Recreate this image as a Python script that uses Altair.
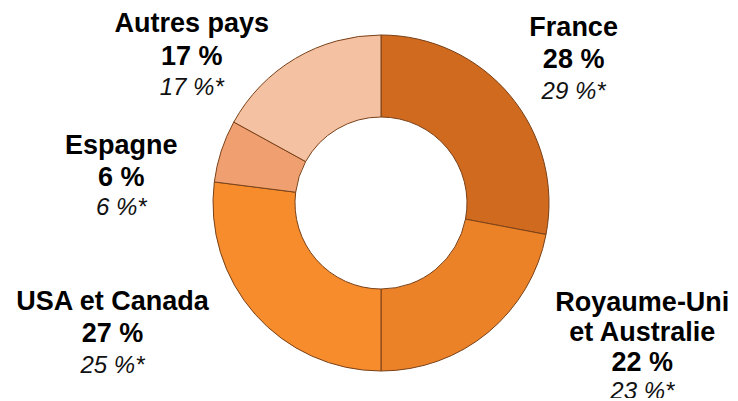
import altair as alt
import pandas as pd

categories = ["France", "Royaume-Uni et Australie", "USA et Canada", "Espagne", "Autres pays"]
label_names = ["France", "Royaume-Uni\net Australie", "USA et Canada", "Espagne", "Autres pays"]
shares = [28, 22, 27, 6, 17]
prev_shares = [29, 23, 25, 6, 17]
colors = ["#d06a1e", "#ec8228", "#f78c2c", "#f0a070", "#f4c2a2"]

df = pd.DataFrame({
    "cat": categories,
    "order": list(range(len(categories))),
    "share": shares,
    "prev": prev_shares,
    "name": label_names,
})
df["bold"] = df["name"] + "\n" + df["share"].astype(str) + " %"
df["ital"] = df["prev"].astype(str) + " %*"

theta_scale = alt.Scale(domain=[0, 100])
color_scale = alt.Scale(domain=categories, range=colors)

base = alt.Chart(df).transform_window(
    cum="sum(share)", sort=[alt.SortField("order")], frame=[None, 0]
).transform_calculate(
    start="datum.cum - datum.share",
    mid="datum.cum - datum.share / 2",
)

arcs = base.mark_arc(innerRadius=86, outerRadius=168, stroke="#7a4118", strokeWidth=1).encode(
    theta=alt.Theta("start:Q", scale=theta_scale),
    theta2="cum:Q",
    color=alt.Color("cat:N", scale=color_scale, legend=None),
)

# label offsets (style) relative to the mid-angle anchor at radius 250
# (bold dx, bold dy, line height), (italic dx, italic dy)
offsets = {
    "France": ((0, -16, 32), (0, 48)),
    "Royaume-Uni et Australie": ((102, -93, 30), (102, -4)),
    "USA et Canada": ((-81, -66, 32), (-81, -2)),
    "Espagne": ((-22, 20, 32), (-22, 82)),
    "Autres pays": ((-62, 36, 33), (-62, 100)),
}

layers = [arcs]
for cat in categories:
    (bdx, bdy, lh), (idx, idy) = offsets[cat]
    sub = base.transform_filter(alt.datum.cat == cat)
    layers.append(sub.mark_text(
        radius=250, dx=bdx, dy=bdy, font="Liberation Sans", fontSize=27,
        fontWeight="bold", lineBreak="\n", lineHeight=lh, baseline="middle",
        align="center", color="#000000",
    ).encode(theta=alt.Theta("mid:Q", scale=theta_scale), text="bold:N"))
    layers.append(sub.mark_text(
        radius=250, dx=idx, dy=idy, font="Liberation Sans", fontSize=24,
        fontStyle="italic", baseline="middle", align="center", color="#111111",
    ).encode(theta=alt.Theta("mid:Q", scale=theta_scale), text="ital:N"))

chart = alt.layer(*layers).properties(
    width=698, height=390,
    padding={"left": 24, "top": 0, "right": 0, "bottom": 0},
    autosize=alt.AutoSizeParams(type="none"),
).configure_view(stroke=None)

chart.save("out.html", embed_options={"renderer": "svg", "actions": False})
